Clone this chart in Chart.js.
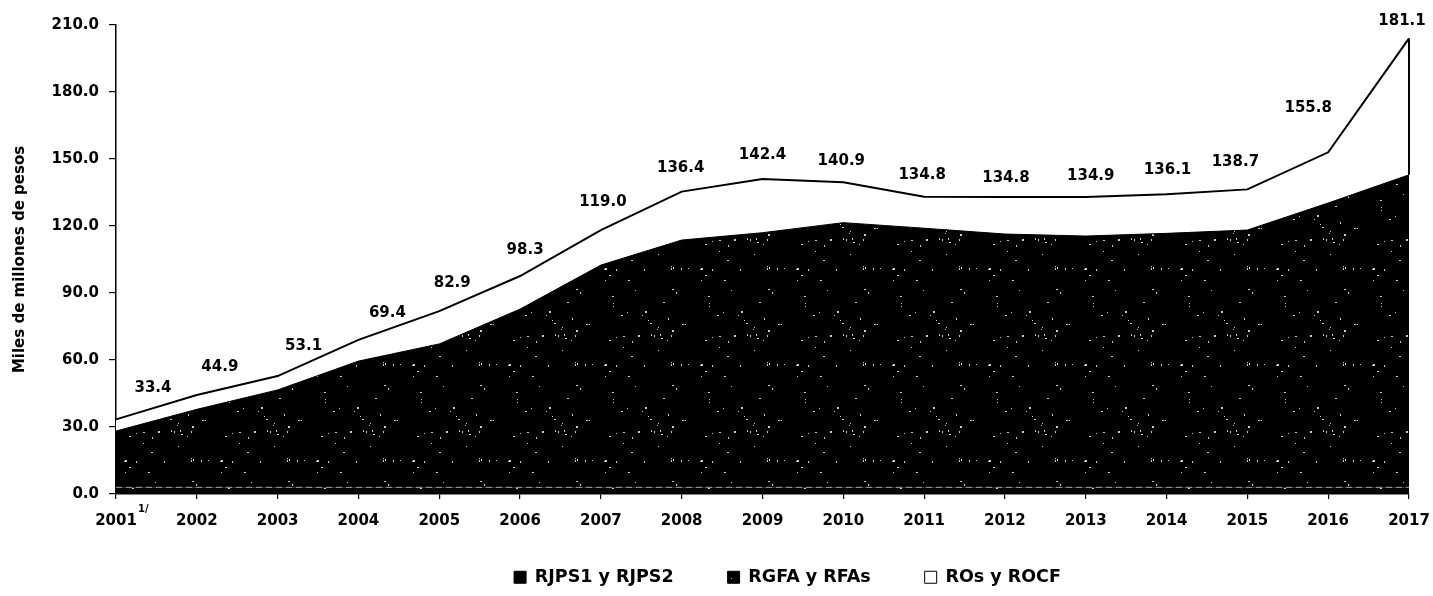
<!DOCTYPE html>
<html>
<head>
<meta charset="utf-8">
<script src="https://cdn.jsdelivr.net/npm/chart.js@4/dist/chart.umd.min.js"></script>
<style>
  html, body { margin: 0; padding: 0; background: #fff; }
  #wrap { width: 1433px; height: 596px; position: relative; }
</style>
</head>
<body>
<div id="wrap"><canvas id="chart"></canvas></div>
<script>
// years on the x axis
const years = ["2001", "2002", "2003", "2004", "2005", "2006", "2007", "2008", "2009",
  "2010", "2011", "2012", "2013", "2014", "2015", "2016", "2017"];

// stacked series, miles de millones de pesos
const rjps = [3.0, 3.0, 3.0, 3.0, 3.0, 3.0, 3.0, 3.0, 3.0, 3.0, 3.0, 3.0, 3.0, 3.0, 3.0, 3.0, 3.0];
const rgfa = [25.2, 34.9, 43.6, 56.5, 64.2, 79.8, 99.5, 110.7, 114.0, 118.5, 116.0, 113.4, 112.5, 113.7, 115.2, 127.3, 139.9];
const ros  = [5.2, 6.4, 6.2, 9.5, 14.7, 14.8, 15.7, 21.7, 24.0, 18.1, 14.1, 16.6, 17.5, 17.5, 18.2, 22.7, 61.1];

// printed totals above the line
const totalLabels = ["33.4", "44.9", "53.1", "69.4", "82.9", "98.3", "119.0", "136.4", "142.4",
  "140.9", "134.8", "134.8", "134.9", "136.1", "138.7", "155.8", "181.1"];

const yTicks = { min: 0, max: 210, step: 30 };

(function () {
  const FONT = '"DejaVu Sans", "Liberation Sans", sans-serif';
  Chart.defaults.font.family = FONT;
  Chart.defaults.font.weight = "bold";
  Chart.defaults.font.size = 15;
  Chart.defaults.color = "#000";

  const totals = years.map((_, i) => rjps[i] + rgfa[i] + ros[i]);

  // black fill with a few white specks, like the scanned original
  function speckle(ctx) {
    const c = document.createElement("canvas");
    c.width = c.height = 96;
    const g = c.getContext("2d");
    g.fillStyle = "#000";
    g.fillRect(0, 0, 96, 96);
    let s = 11;
    const rnd = () => (s = (s * 16807) % 2147483647) / 2147483647;
    g.fillStyle = "rgba(255,255,255,0.8)";
    for (let i = 0; i < 45; i++) {
      g.fillRect(Math.floor(rnd() * 96), Math.floor(rnd() * 96), rnd() < 0.4 ? 2 : 1, rnd() < 0.3 ? 2 : 1);
    }
    return ctx.createPattern(c, "repeat");
  }

  const el = document.getElementById("chart");
  const ctx = el.getContext("2d");
  const dots = speckle(ctx);

  const extras = {
    id: "extras",
    afterLayout(chart) {
      const lg = chart.legend;
      if (lg) { lg.left += 25; lg.right += 25; }
      // the year labels hang below the (short) axis box; don't clip them
      chart.scales.x._computeLabelArea = () => undefined;
    },
    afterDatasetsDraw(chart, args, opts) {
      const { ctx, scales: { x, y } } = chart;
      const last = years.length - 1;
      ctx.save();
      // outline closing the white area on the right
      ctx.strokeStyle = "#000";
      ctx.lineWidth = 2;
      ctx.beginPath();
      ctx.moveTo(x.getPixelForValue(last), y.getPixelForValue(totals[last]));
      ctx.lineTo(x.getPixelForValue(last), y.getPixelForValue(rjps[last] + rgfa[last]));
      ctx.stroke();

      ctx.font = "bold 15px " + FONT;
      ctx.fillStyle = "#000";
      ctx.textAlign = "center";
      ctx.textBaseline = "middle";
      totalLabels.forEach((t, i) => {
        const n = opts.nudge[i];
        ctx.fillText(t, x.getPixelForValue(i) + n[0], y.getPixelForValue(totals[i]) + n[1]);
      });

      // footnote mark on the first year
      ctx.font = "bold 10px " + FONT;
      ctx.textAlign = "left";
      ctx.fillText("1/", x.getPixelForValue(0) + 22, x.top + 15);
      ctx.restore();
    }
  };

  new Chart(ctx, {
    type: "line",
    data: {
      labels: years,
      datasets: [
        {
          label: "RJPS1 y RJPS2",
          data: rjps,
          backgroundColor: dots,
          borderColor: "rgba(255,255,255,0.55)",
          borderWidth: 1,
          borderDash: [6, 4],
          fill: "origin"
        },
        {
          label: "RGFA y RFAs",
          data: rgfa,
          backgroundColor: dots,
          borderColor: "#000",
          borderWidth: 1,
          fill: "-1"
        },
        {
          label: "ROs y ROCF",
          data: ros,
          backgroundColor: "#fff",
          borderColor: "#000",
          borderWidth: 2,
          fill: "-1"
        }
      ]
    },
    options: {
      responsive: true,
      maintainAspectRatio: false,
      animation: false,
      layout: { padding: { top: 25, right: 24, left: 0, bottom: 0 } },
      elements: { point: { radius: 0 }, line: { tension: 0 } },
      plugins: {
        tooltip: { enabled: false },
        legend: {
          position: "bottom",
          fullSize: false,
          labels: {
            boxWidth: 12,
            boxHeight: 12,
            padding: 54,
            font: { size: 17.5, weight: "bold" },
            generateLabels: chart => chart.data.datasets.map((d, i) => ({
              text: d.label,
              fillStyle: i === 2 ? "#fff" : dots,
              strokeStyle: "#000",
              lineWidth: 1,
              fontColor: "#000",
              hidden: false,
              datasetIndex: i
            }))
          }
        },
        extras: {
          nudge: [[37, -31], [23, -28], [26, -30], [29, -27], [13, -28], [5, -26], [2, -28],
            [-1, -23], [0, -24], [-2, -21], [-2, -22], [1, -19], [5, -21], [1, -24],
            [-12, -27], [-20, -44], [-7, -17]]
        }
      },
      scales: {
        x: {
          offset: false,
          afterFit: s => { s.height = 20.5; s.paddingLeft = 0; s.paddingRight = 0; },
          border: { display: true, color: "#000", width: 1.5 },
          grid: { display: true, drawOnChartArea: false, drawTicks: true, tickLength: 5, color: "#000", lineWidth: 1.2 },
          ticks: { maxRotation: 0, autoSkip: false, padding: 13, font: { size: 15, weight: "bold" } }
        },
        y: {
          stacked: true,
          min: yTicks.min,
          max: yTicks.max,
          afterFit: s => { s.width = 116; },
          border: { display: true, color: "#000", width: 1.5 },
          grid: { display: true, drawOnChartArea: false, drawTicks: true, tickLength: 7, color: "#000", lineWidth: 1.2 },
          ticks: {
            stepSize: yTicks.step,
            padding: 10,
            font: { size: 15, weight: "bold" },
            callback: v => v.toFixed(1)
          },
          title: {
            display: true,
            text: "Miles de millones de pesos",
            font: { size: 15, weight: "bold" },
            padding: { top: 11, bottom: 0 }
          }
        }
      }
    },
    plugins: [extras]
  });
})();
</script>
</body>
</html>
